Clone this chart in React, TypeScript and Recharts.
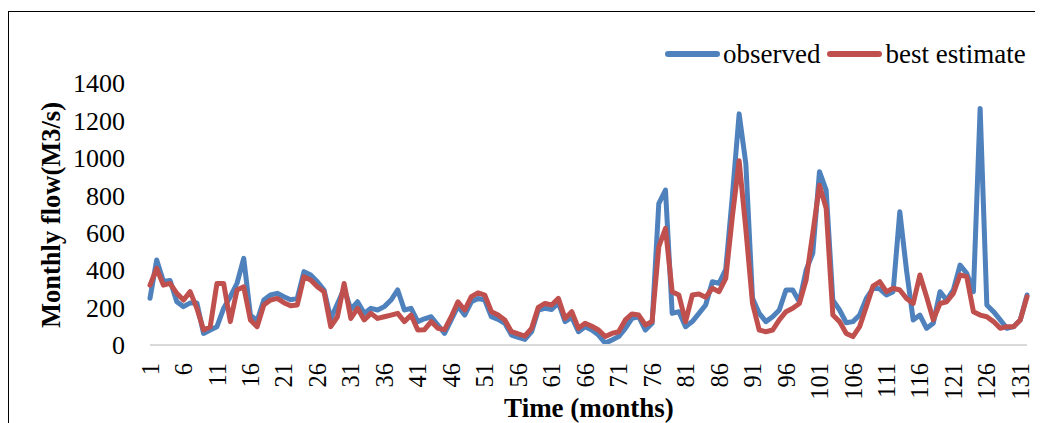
import { LineChart, Line, XAxis, YAxis, Legend } from 'recharts';

const months = Array.from({ length: 132 }, (_, i) => i + 1);

const observed = [
  250, 454, 340, 345, 231, 205, 225, 225, 62, 80,
  98, 196, 258, 330, 463, 160, 130, 240, 267, 276,
  258, 242, 249, 392, 374, 338, 294, 140, 220, 300,
  190, 231, 169, 196, 187, 205, 240, 294, 187, 196,
  125, 140, 151, 107, 62, 134, 208, 160, 231, 249,
  240, 151, 137, 116, 53, 41, 30, 71, 187, 196,
  190, 226, 125, 148, 71, 98, 80, 53, 10, 27,
  45, 89, 142, 151, 80, 116, 756, 828, 169, 178,
  98, 125, 169, 214, 338, 329, 405, 800, 1235, 970,
  250, 169, 125, 151, 187, 294, 294, 231, 400, 490,
  926, 828, 240, 187, 119, 125, 160, 249, 303, 300,
  267, 285, 712, 400, 134, 160, 89, 116, 285, 240,
  294, 427, 383, 285, 1264, 214, 178, 134, 89, 98,
  134, 267,
];

const bestEstimate = [
  320, 409, 320, 329, 276, 240, 285, 196, 80, 98,
  329, 329, 125, 294, 311, 134, 98, 214, 240, 249,
  226, 210, 214, 365, 347, 311, 285, 98, 151, 329,
  142, 196, 134, 169, 142, 151, 160, 169, 125, 160,
  80, 82, 125, 89, 82, 151, 231, 187, 258, 279,
  267, 178, 160, 134, 71, 59, 48, 89, 201, 222,
  214, 249, 142, 178, 89, 116, 100, 80, 45, 62,
  71, 134, 166, 160, 107, 125, 525, 623, 285, 267,
  125, 267, 272, 255, 303, 285, 356, 690, 985, 620,
  222, 80, 71, 80, 134, 178, 196, 222, 347, 596,
  854, 730, 160, 125, 62, 45, 98, 205, 315, 338,
  285, 303, 294, 249, 222, 374, 258, 134, 222, 231,
  276, 374, 365, 178, 160, 151, 125, 89, 98, 98,
  134, 258,
];

const yTicks = [0, 200, 400, 600, 800, 1000, 1200, 1400];

const data = months.map((m, i) => ({ month: m, observed: observed[i], best: bestEstimate[i] }));

const FONT = '"Liberation Serif", "Times New Roman", serif';
const BLUE = '#4F81BD';
const RED = '#C0504D';

function MonthTick({ x, y, payload }: any) {
  return (
    <g transform={`translate(${x},${y})`}>
      <text x={-10} y={0} dy="0.35em" textAnchor="end" transform="rotate(-90)" fontSize={24.5} fill="#000" fontFamily={FONT}>
        {payload.value}
      </text>
    </g>
  );
}

function FlowLegend() {
  const swatch = (color: string) => (
    <span style={{ display: 'inline-block', width: 55, height: 6, borderRadius: 3, background: color }} />
  );
  return (
    <div style={{ display: 'flex', alignItems: 'center', fontSize: 27, fontFamily: FONT, color: '#000', lineHeight: '30px', whiteSpace: 'nowrap' }}>
      {swatch(BLUE)}
      <span style={{ marginLeft: 3, marginRight: 7 }}>observed</span>
      {swatch(RED)}
      <span style={{ marginLeft: 3 }}>best estimate</span>
    </div>
  );
}

export default function App() {
  return (
    <div style={{ position: 'relative', width: 1035, height: 415, fontFamily: FONT }}>
      <div
        style={{
          position: 'absolute', left: 0, top: 3, width: 1035, height: 412,
          borderTop: '1.5px solid #000', borderLeft: '1.5px solid #000', boxSizing: 'border-box',
        }}
      />
      <LineChart
        width={1035}
        height={415}
        data={data}
        margin={{ top: 75, right: 16, bottom: 0, left: 0 }}
        style={{ position: 'absolute', left: 0, top: 0 }}
      >
        <XAxis
          dataKey="month"
          interval={4}
          height={78}
          tickLine={false}
          axisLine={{ stroke: '#d9d9d9', strokeWidth: 2 }}
          tick={<MonthTick />}
          label={{
            content: () => (
              <text x={581} y={409} textAnchor="middle" fontSize={27} fontWeight="bold" fill="#000" fontFamily={FONT}>
                Time (months)
              </text>
            ),
          }}
        />
        <YAxis
          domain={[0, 1400]}
          ticks={yTicks}
          interval={0}
          width={142}
          axisLine={false}
          tickLine={false}
          tickMargin={19}
          tick={{ fill: '#000', fontSize: 26, fontFamily: FONT }}
          label={{
            content: () => (
              <text
                x={43}
                y={207}
                transform="rotate(-90 43 207)"
                textAnchor="middle"
                dominantBaseline="central"
                fontSize={26.5}
                fontWeight="bold"
                fill="#000"
                fontFamily={FONT}
              >
                Monthly flow(M3/s)
              </text>
            ),
          }}
        />
        <Legend
          layout="horizontal"
          verticalAlign="middle"
          align="center"
          content={<FlowLegend />}
          wrapperStyle={{ left: 657, top: 31, width: 378, height: 30 }}
        />
        <Line
          type="linear"
          dataKey="observed"
          name="observed"
          stroke={BLUE}
          strokeWidth={5}
          strokeLinejoin="round"
          strokeLinecap="round"
          dot={false}
          isAnimationActive={false}
        />
        <Line
          type="linear"
          dataKey="best"
          name="best estimate"
          stroke={RED}
          strokeWidth={5}
          strokeLinejoin="round"
          strokeLinecap="round"
          dot={false}
          isAnimationActive={false}
        />
      </LineChart>
    </div>
  );
}
